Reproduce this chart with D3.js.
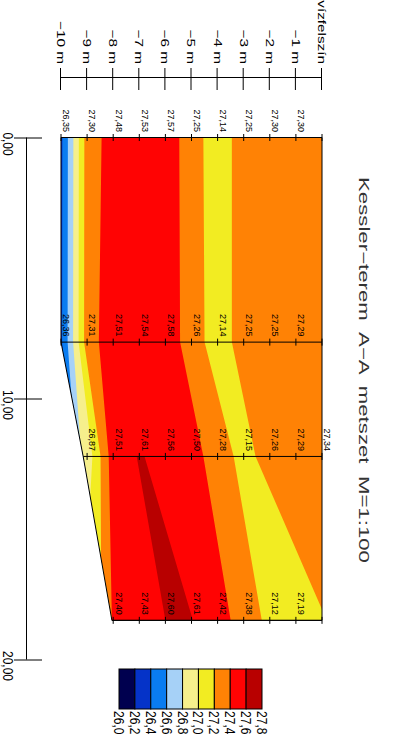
<!DOCTYPE html>
<html>
<head>
<meta charset="utf-8">
<script src="https://cdn.jsdelivr.net/npm/d3@7"></script>
<style>
  body { margin: 0; background: #fff; }
  svg { display: block; }
  text { font-family: "Liberation Sans", Arial, sans-serif; }
</style>
</head>
<body>
<div id="chart"></div>
<script>
// distance of each measured profile along the section (m) and the cave floor under it
var profileDist = [0, 7.84, 12.22, 18.5];
var floorDepth = [-10, -10, -9.15, -8.05];
// depth of the first reading of each profile, readings follow every 1 m downwards
var topReading = [-1, -1, 0, -1];

var temp1 = [27.30, 27.30, 27.25, 27.14, 27.25, 27.57, 27.53, 27.48, 27.30, 26.35];
var temp2 = [27.29, 27.25, 27.25, 27.14, 27.26, 27.58, 27.54, 27.51, 27.31, 26.36];
var temp3 = [27.34, 27.29, 27.26, 27.15, 27.28, 27.50, 27.56, 27.61, 27.51, 26.87];
var temp4 = [27.19, 27.12, 27.38, 27.42, 27.61, 27.60, 27.43, 27.40];
var profileTemps = [temp1, temp2, temp3, temp4];

var depthTicks = [0, -1, -2, -3, -4, -5, -6, -7, -8, -9, -10];
var depthLabels = ['vízfelszín', '−1 m', '−2 m', '−3 m', '−4 m', '−5 m', '−6 m', '−7 m', '−8 m', '−9 m', '−10 m'];
var distTicks = [0, 10, 20];

var levels = [26.0, 26.2, 26.4, 26.6, 26.8, 27.0, 27.2, 27.4, 27.6, 27.8];
var bandColors = ['#00004f', '#0533c8', '#0a7cf0', '#a6d1f7', '#f6ef8c',
                  '#f2ec22', '#ff8205', '#ff0303', '#b80000'];

var title = 'Kessler−terem  A−A  metszet  M=1:100';

// ---------------------------------------------------------------
var comma2 = function(v) { return d3.format('.2f')(v).replace('.', ','); };
var comma1 = function(v) { return d3.format('.1f')(v).replace('.', ','); };

var svg = d3.select('#chart').append('svg')
    .attr('width', 394)
    .attr('height', 742);

svg.append('rect').attr('width', 394).attr('height', 742).attr('fill', '#fff');

// the drawing is laid out landscape and turned a quarter clockwise
var g = svg.append('g').attr('transform', 'translate(394,0) rotate(90)');

var x = d3.scaleLinear().domain([0, 20]).range([137.5, 659.5]);
var y = d3.scaleLinear().domain([0, -10]).range([72, 333]);
var legendY = d3.scaleLinear().domain([levels[0], levels[levels.length - 1]]).range([275, 132]);

// each profile as a piecewise linear function of depth
var readings = profileTemps.map(function(temps, p) {
  return temps.map(function(v, i) { return { p: p, dist: profileDist[p], depth: topReading[p] - i, v: v }; });
});
var fns = readings.map(function(r) {
  return d3.scaleLinear()
    .domain(r.map(function(d) { return d.depth; }))
    .range(r.map(function(d) { return d.v; }))
    .clamp(true);
});

function nodesOf(p) {
  var n = [0];
  readings[p].forEach(function(d) { if (d.depth < 0 && d.depth > floorDepth[p]) n.push(d.depth); });
  n.push(floorDepth[p]);
  return n;
}

// where a profile crosses the colour levels, from the surface downwards
function crossings(p) {
  var f = fns[p], nodes = nodesOf(p), out = [];
  for (var s = 0; s < nodes.length - 1; s++) {
    var d1 = nodes[s], d2 = nodes[s + 1], v1 = f(d1), v2 = f(d2);
    var hits = [];
    levels.forEach(function(L) {
      if ((v1 >= L) !== (v2 >= L)) {
        hits.push({ L: L, up: v2 >= L, d: d1 + (L - v1) / (v2 - v1) * (d2 - d1) });
      }
    });
    hits.sort(function(a, b) { return b.d - a.d; });
    out = out.concat(hits);
  }
  return out;
}

// pair the matching level crossings of two neighbouring profiles (longest common run)
function matchPairs(A, B) {
  var n = A.length, m = B.length, T = [];
  for (var i = 0; i <= n; i++) T.push(new Array(m + 1).fill(0));
  var same = function(a, b) { return a.L === b.L && a.up === b.up; };
  for (i = n - 1; i >= 0; i--) {
    for (var j = m - 1; j >= 0; j--) {
      T[i][j] = same(A[i], B[j]) ? 1 + T[i + 1][j + 1] : Math.max(T[i + 1][j], T[i][j + 1]);
    }
  }
  var pairs = [];
  i = 0; j = 0;
  while (i < n && j < m) {
    if (same(A[i], B[j]) && T[i][j] === 1 + T[i + 1][j + 1]) { pairs.push([A[i].d, B[j].d, A[i].L]); i++; j++; }
    else if (T[i + 1][j] >= T[i][j + 1]) i++;
    else j++;
  }
  return pairs;
}

var cross = profileDist.map(function(d, p) { return crossings(p); });
var stripPairs = d3.range(profileDist.length - 1).map(function(s) {
  return matchPairs(cross[s], cross[s + 1]);
});

// area of one strip at or above level L: perimeter arcs joined by straight chords
function levelRegions(s, L) {
  var dA = profileDist[s], dB = profileDist[s + 1];
  var perim = nodesOf(s).map(function(d) { return { x: dA, d: d, v: fns[s](d) }; })
    .concat(nodesOf(s + 1).reverse().map(function(d) { return { x: dB, d: d, v: fns[s + 1](d) }; }));
  var N = perim.length, cs = [];
  for (var i = 0; i < N; i++) {
    var p1 = perim[i], p2 = perim[(i + 1) % N];
    if ((p1.v >= L) !== (p2.v >= L)) {
      var f = (L - p1.v) / (p2.v - p1.v);
      cs.push({
        seg: i, x: p1.x + f * (p2.x - p1.x), d: p1.d + f * (p2.d - p1.d), enter: p2.v >= L,
        side: (p1.x === dA && p2.x === dA) ? 'A' : (p1.x === dB && p2.x === dB) ? 'B' : 'E'
      });
    }
  }
  if (!cs.length) return perim[0].v >= L ? [perim] : [];
  cs.forEach(function(c, k) { c.i = k; });

  stripPairs[s].filter(function(pr) { return pr[2] === L; }).forEach(function(pr) {
    var a = cs.find(function(c) { return c.side === 'A' && !c.partner && Math.abs(c.d - pr[0]) < 1e-6; });
    var b = cs.find(function(c) { return c.side === 'B' && !c.partner && Math.abs(c.d - pr[1]) < 1e-6; });
    if (a && b) { a.partner = b; b.partner = a; a.open = true; }
  });

  // remaining crossings join their neighbour inside the same part of the strip
  var stack = [];
  cs.forEach(function(c) {
    if (c.partner) {
      if (c.open) stack.push({ marker: c });
      else {
        while (stack.length && stack[stack.length - 1].marker !== c.partner) stack.pop();
        stack.pop();
      }
    } else {
      var top = stack[stack.length - 1];
      if (top && !top.marker) { stack.pop(); top.c.partner = c; c.partner = top.c; }
      else stack.push({ c: c });
    }
  });

  var polys = [];
  cs.forEach(function(start) {
    if (!start.enter || start.done || !start.partner) return;
    var pts = [], cur = start, guard = 0;
    while (guard++ < 200) {
      cur.done = true;
      pts.push(cur);
      var nxt = cs[(cur.i + 1) % cs.length];
      var k = cur.seg;
      while (k !== nxt.seg) { k = (k + 1) % N; pts.push(perim[k]); }
      pts.push(nxt);
      nxt.done = true;
      var pa = nxt.partner;
      if (!pa || pa === start || pa.done || !pa.enter) break;
      cur = pa;
    }
    polys.push(pts);
  });
  return polys;
}

var bands = levels.slice(0, bandColors.length).map(function(L, k) {
  var polys = [];
  for (var s = 0; s < profileDist.length - 1; s++) polys = polys.concat(levelRegions(s, L));
  return { k: k, polys: polys };
});

var section = profileDist.map(function(d) { return [x(d), y(0)]; })
  .concat(profileDist.map(function(d, i) { return [x(d), y(floorDepth[i])]; }).reverse());

svg.append('defs').append('clipPath').attr('id', 'sec')
  .append('path').attr('d', 'M' + section.join('L') + 'Z');

g.append('g')
  .attr('clip-path', 'url(#sec)')
  .selectAll('path')
  .data(bands)
  .join('path')
  .attr('d', function(b) {
    return b.polys.map(function(p) {
      return 'M' + p.map(function(q) { return [x(q.x), y(q.d)]; }).join('L') + 'Z';
    }).join('');
  })
  .attr('fill', function(b) { return bandColors[b.k]; });

// section outline
g.append('path')
  .attr('d', 'M' + section.join('L') + 'Z')
  .attr('fill', 'none')
  .attr('stroke', '#000')
  .attr('stroke-width', 1);

// profile lines with a tick each metre
var prof = g.selectAll('g.profile')
  .data(profileDist)
  .join('g')
  .attr('class', 'profile');

prof.append('line')
  .attr('x1', function(d) { return x(d); })
  .attr('x2', function(d) { return x(d); })
  .attr('y1', function(d, i) { return y(floorDepth[i]); })
  .attr('y2', y(0))
  .attr('stroke', '#000');

prof.selectAll('line.tick')
  .data(function(d, i) {
    return d3.range(Math.ceil(floorDepth[i]), 1).map(function(dep) { return { dist: d, depth: dep }; });
  })
  .join('line')
  .attr('class', 'tick')
  .attr('x1', function(d) { return x(d.dist) - 3.5; })
  .attr('x2', function(d) { return x(d.dist) + 3.5; })
  .attr('y1', function(d) { return y(d.depth); })
  .attr('y2', function(d) { return y(d.depth); })
  .attr('stroke', '#000');

// reading values
g.append('g').selectAll('text')
  .data(d3.merge(readings))
  .join('text')
  .attr('x', function(d) { return x(d.dist) - 5.5; })
  .attr('y', function(d) { return y(d.depth) - 2.3; })
  .attr('text-anchor', 'end')
  .attr('font-size', 9)
  .attr('fill', '#000')
  .text(function(d) { return comma2(d.v); });

function stretch(sel, f) {
  sel.each(function() {
    var w = this.getComputedTextLength();
    d3.select(this).attr('textLength', w * f).attr('lengthAdjust', 'spacingAndGlyphs');
  });
}

// depth axis
var depthAxis = g.append('g')
  .attr('transform', 'translate(90,0)')
  .call(d3.axisLeft(y)
    .tickValues(depthTicks)
    .tickFormat(function(d, i) { return depthLabels[i]; })
    .tickSize(22)
    .tickSizeOuter(0)
    .tickPadding(4))
  .attr('font-size', 11);
depthAxis.select('.domain').remove();
depthAxis.selectAll('text').attr('fill', '#000');
stretch(depthAxis.selectAll('text'), 1.39);

g.append('line')
  .attr('x1', 77.5).attr('x2', 77.5)
  .attr('y1', y(0)).attr('y2', y(-10))
  .attr('stroke', '#000');

// distance axis
var distAxis = g.append('g')
  .attr('transform', 'translate(0,352)')
  .call(d3.axisBottom(x)
    .tickValues(distTicks)
    .tickFormat(comma2)
    .tickSize(28)
    .tickSizeOuter(0)
    .tickPadding(1))
  .attr('font-size', 14);
distAxis.select('.domain').remove();
distAxis.selectAll('text').attr('dx', 6).attr('fill', '#000');
stretch(distAxis.selectAll('text'), 0.85);

g.append('line')
  .attr('x1', x(0)).attr('x2', x(20))
  .attr('y1', 367.5).attr('y2', 367.5)
  .attr('stroke', '#000');

// colour key
var legend = g.append('g');
legend.selectAll('rect')
  .data(bandColors)
  .join('rect')
  .attr('x', 669)
  .attr('width', 40)
  .attr('y', function(c, i) { return legendY(levels[i + 1]); })
  .attr('height', function(c, i) { return legendY(levels[i]) - legendY(levels[i + 1]); })
  .attr('fill', function(c) { return c; })
  .attr('stroke', '#000');

var legendText = legend.selectAll('text')
  .data(levels)
  .join('text')
  .attr('x', 711)
  .attr('y', function(d) { return legendY(d); })
  .attr('dy', '0.36em')
  .attr('font-size', 14)
  .attr('fill', '#000')
  .text(comma1);
stretch(legendText, 0.86);

// title
g.append('text')
  .attr('x', 177)
  .attr('y', 35.5)
  .attr('font-size', 14)
  .attr('fill', '#333')
  .style('white-space', 'pre')
  .attr('textLength', 386)
  .attr('lengthAdjust', 'spacingAndGlyphs')
  .text(title);
</script>
</body>
</html>
